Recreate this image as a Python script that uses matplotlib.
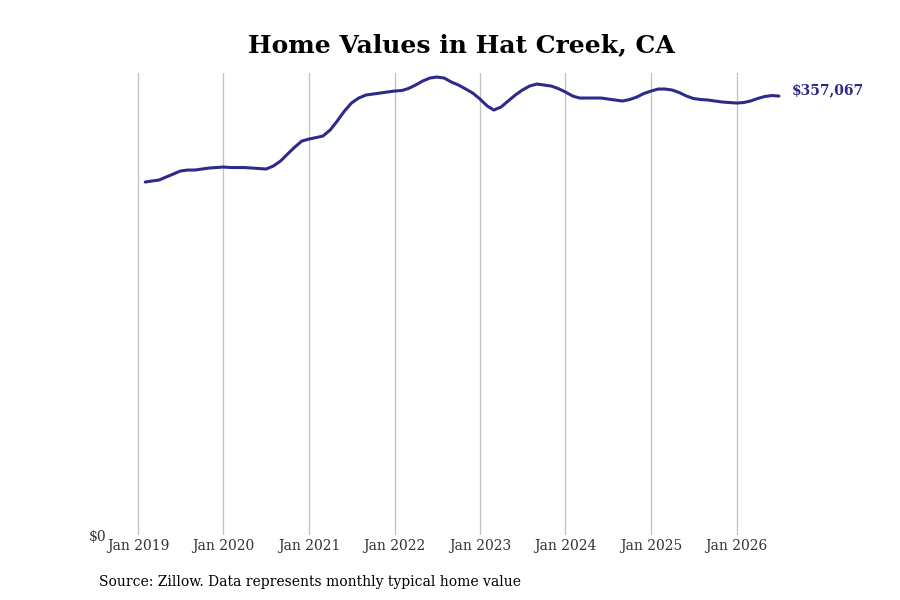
import datetime as dt
import matplotlib
matplotlib.use("Agg")
import matplotlib.pyplot as plt
import matplotlib.dates as mdates

# monthly typical home value, Feb 2019 .. Jul 2026
start_year, start_month = 2019, 2
values = [
    287130, 287940, 288760, 291200, 293640, 296080, 296890, 296890, 297700, 298520, 298920,
    299330, 298920, 298920, 298920, 298520, 298110, 297700, 300140, 304210, 309910, 315600, 320480,
    322110, 323330, 324550, 329430, 336750, 344880, 351390, 355460, 357900, 358710, 359520, 360340,
    361150, 361560, 363190, 366030, 369280, 371720, 372540, 371720, 368470, 366030, 362780, 359520,
    354640, 348950, 345700, 348140, 353020, 357900, 361960, 365220, 366840, 366030, 365220, 363190,
    360340, 357080, 355460, 355460, 355460, 355460, 354640, 353830, 353020, 354240, 356270, 359120,
    361150, 362780, 362780, 361960, 359930, 357080, 355050, 354240, 353830, 353020, 352210, 351800,
    351390, 351800, 353020, 355050, 356680, 357480, 357067,
]
tick_years = list(range(2019, 2027))

dates = []
y, m = start_year, start_month
for _ in values:
    dates.append(dt.date(y, m, 1))
    m += 1
    if m > 12:
        m = 1
        y += 1

color = "#2e2a8c"
plt.rcParams["font.family"] = ["DejaVu Serif"]

fig = plt.figure(figsize=(9, 6), dpi=100)
ax = fig.add_axes([0.12, 0.1083, 0.78, 0.77])

ax.plot(dates, values, color=color, linewidth=2.2, solid_capstyle="round")

jan19 = mdates.date2num(dt.date(2019, 1, 1))
days_per_px = 365.25 / 85.5
ax.set_xlim(jan19 - 30 * days_per_px, jan19 + 672 * days_per_px)
ax.set_ylim(0, 375800)

ax.set_xticks([dt.date(yr, 1, 1) for yr in tick_years])
ax.set_xticklabels([f"Jan {yr}" for yr in tick_years])
ax.set_yticks([0])
ax.set_yticklabels(["$0"])
ax.tick_params(length=0, labelsize=10, colors="#333333", pad=3)
ax.tick_params(axis="y", pad=1)
ax.grid(axis="x", color="#c0c0c0", linewidth=0.9)
for s in ax.spines.values():
    s.set_visible(False)

ax.annotate(f"${values[-1]:,}", xy=(dates[-1], values[-1]), xytext=(9, 4),
            textcoords="offset points", color=color, fontweight="bold",
            fontsize=10, va="center", ha="left", annotation_clip=False)

fig.text(0.513, 0.925, "Home Values in Hat Creek, CA", ha="center", va="center",
         fontsize=18, fontweight="bold")
fig.text(0.11, 0.03, "Source: Zillow. Data represents monthly typical home value",
         ha="left", va="center", fontsize=10)

fig.savefig("out.png", dpi=100)
